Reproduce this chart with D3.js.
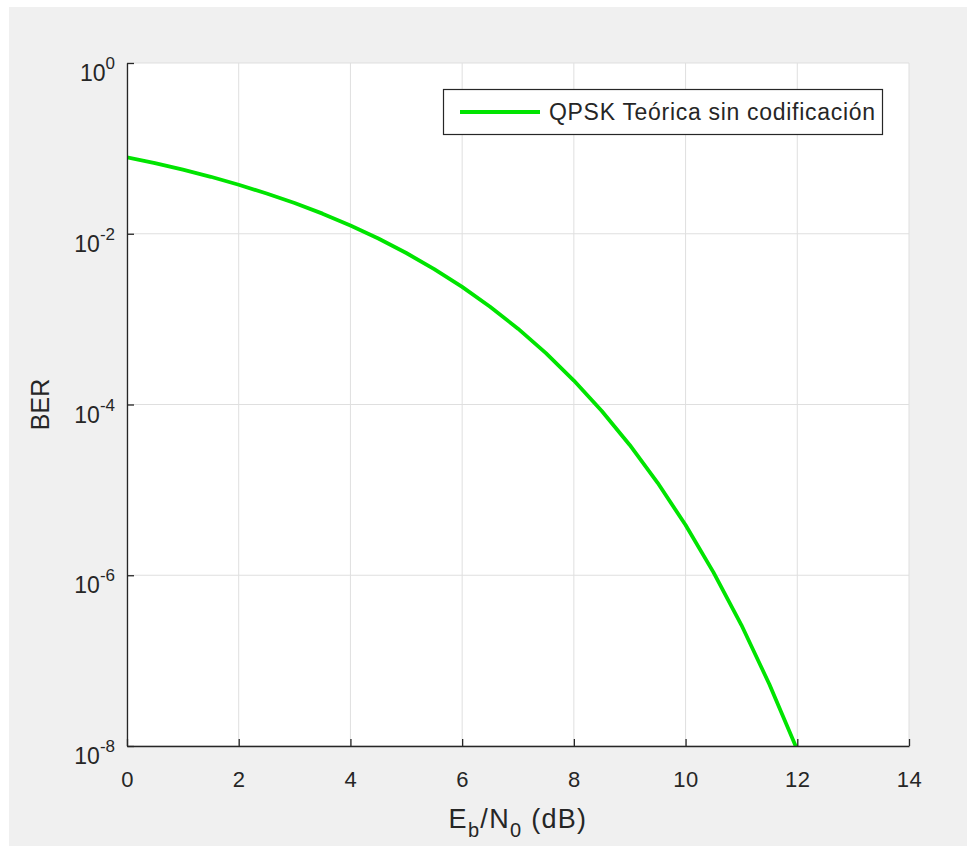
<!DOCTYPE html>
<html>
<head>
<meta charset="utf-8">
<script src="https://cdn.jsdelivr.net/npm/d3@7"></script>
<style>
  html, body { margin: 0; padding: 0; background: #ffffff; }
  svg { display: block; font-family: "Liberation Sans", Arial, Helvetica, sans-serif; }
</style>
</head>
<body>
<svg id="chart" width="967" height="846"></svg>
<script>
// Eb/N0 in dB and the theoretical uncoded QPSK bit error rate at each point
const ebn0 = [0, 0.5, 1, 1.5, 2, 2.5, 3, 3.5, 4, 4.5, 5, 5.5, 6, 6.5, 7, 7.5, 8, 8.5, 9, 9.5, 10, 10.5, 11, 11.5, 12];
const ber = [7.865e-2, 6.715e-2, 5.628e-2, 4.647e-2, 3.751e-2, 2.963e-2, 2.288e-2, 1.720e-2, 1.250e-2,
             8.79e-3, 5.95e-3, 3.86e-3, 2.388e-3, 1.399e-3, 7.73e-4, 4.00e-4, 1.909e-4, 8.38e-5,
             3.36e-5, 1.21e-5, 3.87e-6, 1.08e-6, 2.61e-7, 5.29e-8, 9.0e-9];
const xTicks = [0, 2, 4, 6, 8, 10, 12, 14];
const yTickExponents = [0, -2, -4, -6, -8];
const seriesName = "QPSK Teórica sin codificación";

const svg = d3.select("#chart");
const ink = "#262626";

// figure background
svg.append("rect").attr("x", 9).attr("y", 7).attr("width", 958).attr("height", 839).attr("fill", "#f0f0f0");

const plot = { left: 127, right: 909, top: 63, bottom: 746 };

const x = d3.scaleLinear().domain([0, 14]).range([plot.left, plot.right]);
const y = d3.scaleLog().domain([1e-8, 1]).range([plot.bottom, plot.top]);

// axes area
svg.append("rect")
  .attr("x", plot.left).attr("y", plot.top)
  .attr("width", plot.right - plot.left).attr("height", plot.bottom - plot.top)
  .attr("fill", "#ffffff");

// grid
const grid = svg.append("g").attr("stroke", "#dfdfdf").attr("stroke-width", 1);
xTicks.forEach(t => {
  grid.append("line").attr("x1", x(t)).attr("x2", x(t)).attr("y1", plot.top).attr("y2", plot.bottom);
});
yTickExponents.forEach(e => {
  const v = Math.pow(10, e);
  grid.append("line").attr("x1", plot.left).attr("x2", plot.right).attr("y1", y(v)).attr("y2", y(v));
});

// data line, clipped to the axes area
svg.append("clipPath").attr("id", "clip")
  .append("rect")
  .attr("x", plot.left).attr("y", plot.top)
  .attr("width", plot.right - plot.left).attr("height", plot.bottom - plot.top);

const pts = ebn0.map((d, i) => [d, ber[i]]);
const line = d3.line().x(d => x(d[0])).y(d => y(d[1]));
svg.append("path")
  .datum(pts)
  .attr("clip-path", "url(#clip)")
  .attr("d", line)
  .attr("fill", "none")
  .attr("stroke", "#00e400")
  .attr("stroke-width", 3.8)
  .attr("stroke-linejoin", "round");

// bottom axis with inward ticks
const xAxis = svg.append("g")
  .attr("transform", `translate(0,${plot.bottom})`)
  .call(d3.axisBottom(x).tickValues(xTicks).tickSizeInner(-7).tickSizeOuter(0).tickPadding(0).tickFormat(d3.format("d")));
xAxis.select(".domain").attr("stroke", ink).attr("stroke-width", 1.3);
xAxis.selectAll(".tick line").attr("stroke", ink).attr("stroke-width", 1.3);
xAxis.selectAll(".tick text")
  .attr("y", 41).attr("dy", null)
  .attr("fill", ink)
  .attr("font-size", 22)
  .attr("letter-spacing", 0.5)
  .attr("font-family", "'Liberation Sans', Arial, sans-serif");

// left axis with inward ticks and power-of-ten labels
const yAxis = svg.append("g")
  .attr("transform", `translate(${plot.left},0)`)
  .call(d3.axisLeft(y).tickValues(yTickExponents.map(e => Math.pow(10, e))).tickSizeInner(-7).tickSizeOuter(0).tickFormat(() => ""));
yAxis.select(".domain").attr("stroke", ink).attr("stroke-width", 1.3);
yAxis.selectAll(".tick line").attr("stroke", ink).attr("stroke-width", 1.3);
yAxis.selectAll(".tick text").remove();

const yLabels = svg.append("g").attr("fill", ink);
yTickExponents.forEach(e => {
  const t = yLabels.append("text")
    .attr("x", plot.left - 12)
    .attr("y", y(Math.pow(10, e)) + 18)
    .attr("text-anchor", "end")
    .attr("font-size", 23);
  t.append("tspan").text("10");
  t.append("tspan").attr("dy", -12).attr("font-size", 17).text(String(e));
});

// axis titles
const xTitle = svg.append("text")
  .attr("x", (plot.left + plot.right) / 2)
  .attr("y", 828)
  .attr("text-anchor", "middle")
  .attr("fill", ink)
  .attr("font-size", 27)
  .attr("letter-spacing", 1.3);
xTitle.append("tspan").text("E");
xTitle.append("tspan").attr("dy", 9).attr("font-size", 20).text("b");
xTitle.append("tspan").attr("dy", -9).text("/N");
xTitle.append("tspan").attr("dy", 9).attr("font-size", 20).text("0");
xTitle.append("tspan").attr("dy", -9).text(" (dB)");

svg.append("text")
  .attr("transform", `translate(49,${(plot.top + plot.bottom) / 2}) rotate(-90)`)
  .attr("text-anchor", "middle")
  .attr("fill", ink)
  .attr("font-size", 25)
  .text("BER");

// legend
const legend = svg.append("g");
legend.append("rect")
  .attr("x", 443.5).attr("y", 89.5).attr("width", 439).attr("height", 45)
  .attr("fill", "#ffffff").attr("stroke", ink).attr("stroke-width", 1.2);
legend.append("line")
  .attr("x1", 460).attr("x2", 540).attr("y1", 112).attr("y2", 112)
  .attr("stroke", "#00e400").attr("stroke-width", 3.8);
legend.append("text")
  .attr("x", 549).attr("y", 120)
  .attr("fill", ink)
  .attr("font-size", 23)
  .attr("textLength", 326)
  .attr("lengthAdjust", "spacing")
  .text(seriesName);
</script>
</body>
</html>
